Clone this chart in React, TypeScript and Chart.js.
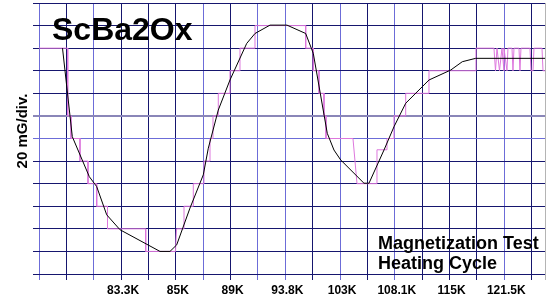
import { useEffect, useRef } from 'react';
import { Chart, registerables } from 'chart.js';
Chart.register(...registerables);

// ---- data (x in grid divisions, y in grid divisions from bottom) ----
const xTickPositions = [3, 5, 7, 9, 11, 13, 15, 17];
const xTickLabels = ['83.3K', '85K', '89K', '93.8K', '103K', '108.1K', '115K', '121.5K'];
const yTitle = '20 mG/div.';
const chartTitle = 'ScBa2Ox';
const noteLines = ['Magnetization Test', 'Heating Cycle'];

const fitX = [0.859, 1.217, 1.838, 2.108, 2.474, 2.959, 4.421, 4.786, 5.031, 5.517, 6.003, 6.186, 6.551, 6.978, 7.589, 7.892, 8.44, 9.061, 9.744, 10.022, 10.533, 10.778, 11.023, 11.874, 12.057, 12.605, 12.97, 13.398, 14.249, 15.042, 15.466, 15.955, 18.488];
const fitY = [10.0, 6.08, 4.31, 3.87, 2.62, 1.96, 1.0, 1.0, 1.29, 2.92, 4.39, 5.57, 7.26, 8.59, 10.21, 10.65, 11.02, 11.02, 10.65, 9.77, 6.23, 5.49, 5.05, 4.02, 4.02, 5.49, 6.52, 7.56, 8.59, 9.03, 9.4, 9.55, 9.55];

const rawX = [0, 1.049, 1.049, 1.169, 1.169, 1.498, 1.498, 1.79, 1.79, 2.108, 2.108, 2.503, 2.503, 3.898, 3.898, 4.987, 5.024, 5.298, 5.298, 5.638, 5.638, 6.028, 6.028, 6.248, 6.248, 6.357, 6.357, 6.551, 6.551, 6.978, 6.978, 7.344, 7.344, 7.892, 7.892, 9.744, 9.744, 10.022, 10.022, 10.23, 10.23, 10.413, 10.413, 10.486, 10.486, 11.472, 11.619, 12.349, 12.349, 12.715, 12.715, 12.97, 12.97, 13.398, 13.398, 14.249, 14.249, 15.966, 15.966, 16.624, 16.679, 16.734, 16.825, 16.916, 16.989, 16.989, 17.099, 17.135, 17.282, 17.318, 17.355, 17.537, 17.573, 17.61, 17.939, 17.976, 18.049, 18.085, 18.378, 18.415, 18.488];
const rawY = [10, 10, 7, 7, 6, 6, 5, 5, 4, 4, 3, 3, 2, 2, 1, 1, 2, 2, 3, 3, 4, 4, 5, 5, 6, 6, 7, 7, 8, 8, 9, 9, 10, 10, 11, 11, 10, 10, 9, 9, 8, 8, 7, 7, 6, 6, 4, 4, 5.5, 5.5, 6, 6, 7, 7, 8, 8, 9, 9, 10, 10, 9, 10, 9, 10, 9, 10, 9, 10, 10, 9, 10, 10, 9, 10, 10, 9, 9, 10, 10, 9, 9];

// ---- style ----
const DARK = '#16166e';
const BLUE = '#6c6cd8';
const GRAYP = '#8a86b8';
const EDGE = '#b4b4b4';
const xGridKinds = ['B', 'D', 'B', 'D', 'D', 'D', 'B', 'D', 'B', 'B', 'D', 'B', 'D', 'B', 'D', 'D', 'D', 'B', 'D', 'E'];
const yGridKinds = ['D', 'D', 'D', 'D', 'D', 'D', 'B', 'G', 'D', 'D', 'D', 'D', 'D']; // bottom (0) to top (12)
const kindColor = (k: string) => (k === 'D' ? DARK : k === 'B' ? BLUE : k === 'G' ? GRAYP : EDGE);
const FONT = '"Liberation Sans", Arial, sans-serif';

const X_MAX = 18.488;

const textPlugin = {
  id: 'texts',
  afterDraw(chart: any) {
    const ctx = chart.ctx;
    ctx.save();
    ctx.fillStyle = '#000';
    ctx.textAlign = 'left';
    ctx.textBaseline = 'alphabetic';
    ctx.font = `bold 32px ${FONT}`;
    ctx.fillText(chartTitle, 52, 40);
    ctx.font = `bold 18px ${FONT}`;
    ctx.fillText(noteLines[0], 378, 249);
    ctx.fillText(noteLines[1], 378, 268.5);
    ctx.translate(26.7, 131);
    ctx.rotate(-Math.PI / 2);
    ctx.textAlign = 'center';
    ctx.font = `bold 15px ${FONT}`;
    ctx.fillText(yTitle, 0, 0);
    ctx.restore();
  },
};

export default function App() {
  const ref = useRef<HTMLCanvasElement>(null);
  useEffect(() => {
    const fit = fitX.map((x, i) => ({ x, y: fitY[i] }));
    const raw = rawX.map((x, i) => ({ x, y: rawY[i] }));
    const chart = new Chart(ref.current!, {
      type: 'line',
      data: {
        datasets: [
          { data: fit, borderColor: '#000', borderWidth: 1, pointRadius: 0, tension: 0 },
          { data: raw, borderColor: '#dd77dd', borderWidth: 1, pointRadius: 0, tension: 0 },
        ],
      },
      options: {
        animation: false,
        responsive: false,
        events: [],
        layout: { padding: { top: 3, right: 9, left: 0, bottom: 0 } },
        plugins: { legend: { display: false }, tooltip: { enabled: false }, title: { display: false } },
        scales: {
          x: {
            type: 'linear',
            min: 0,
            max: X_MAX,
            afterBuildTicks: (s: any) => {
              const t = [];
              for (let i = 0; i <= 18; i++) t.push({ value: i });
              t.push({ value: X_MAX });
              s.ticks = t;
            },
            afterFit: (s: any) => {
              s.height = 27;
            },
            border: { display: false },
            grid: {
              color: (c: any) => kindColor(xGridKinds[c.index] || 'D'),
              lineWidth: 1,
              tickLength: 6,
            },
            ticks: {
              autoSkip: false,
              maxRotation: 0,
              minRotation: 0,
              padding: 3,
              labelOffset: 2,
              color: '#000',
              font: { family: FONT, size: 12, weight: 'bold' },
              callback: (v: any) => {
                const i = xTickPositions.indexOf(Number(v));
                return i >= 0 ? xTickLabels[i] : '';
              },
            },
          },
          y: {
            type: 'linear',
            min: 0,
            max: 12,
            afterBuildTicks: (s: any) => {
              const t = [];
              for (let i = 0; i <= 12; i++) t.push({ value: i });
              s.ticks = t;
            },
            afterFit: (s: any) => {
              s.width = 39;
            },
            border: { display: false },
            grid: {
              color: (c: any) => kindColor(yGridKinds[c.index] || 'D'),
              lineWidth: (c: any) => (yGridKinds[c.index] === 'G' ? 2 : 1),
              tickLength: 6,
            },
            ticks: { display: false },
          },
        },
      },
      plugins: [textPlugin],
    } as any);
    return () => chart.destroy();
  }, []);
  return (
    <div style={{ position: 'fixed', left: 0, top: 0, width: 554, height: 301, background: '#fff' }}>
      <canvas ref={ref} width={554} height={301} style={{ display: 'block' }} />
    </div>
  );
}
